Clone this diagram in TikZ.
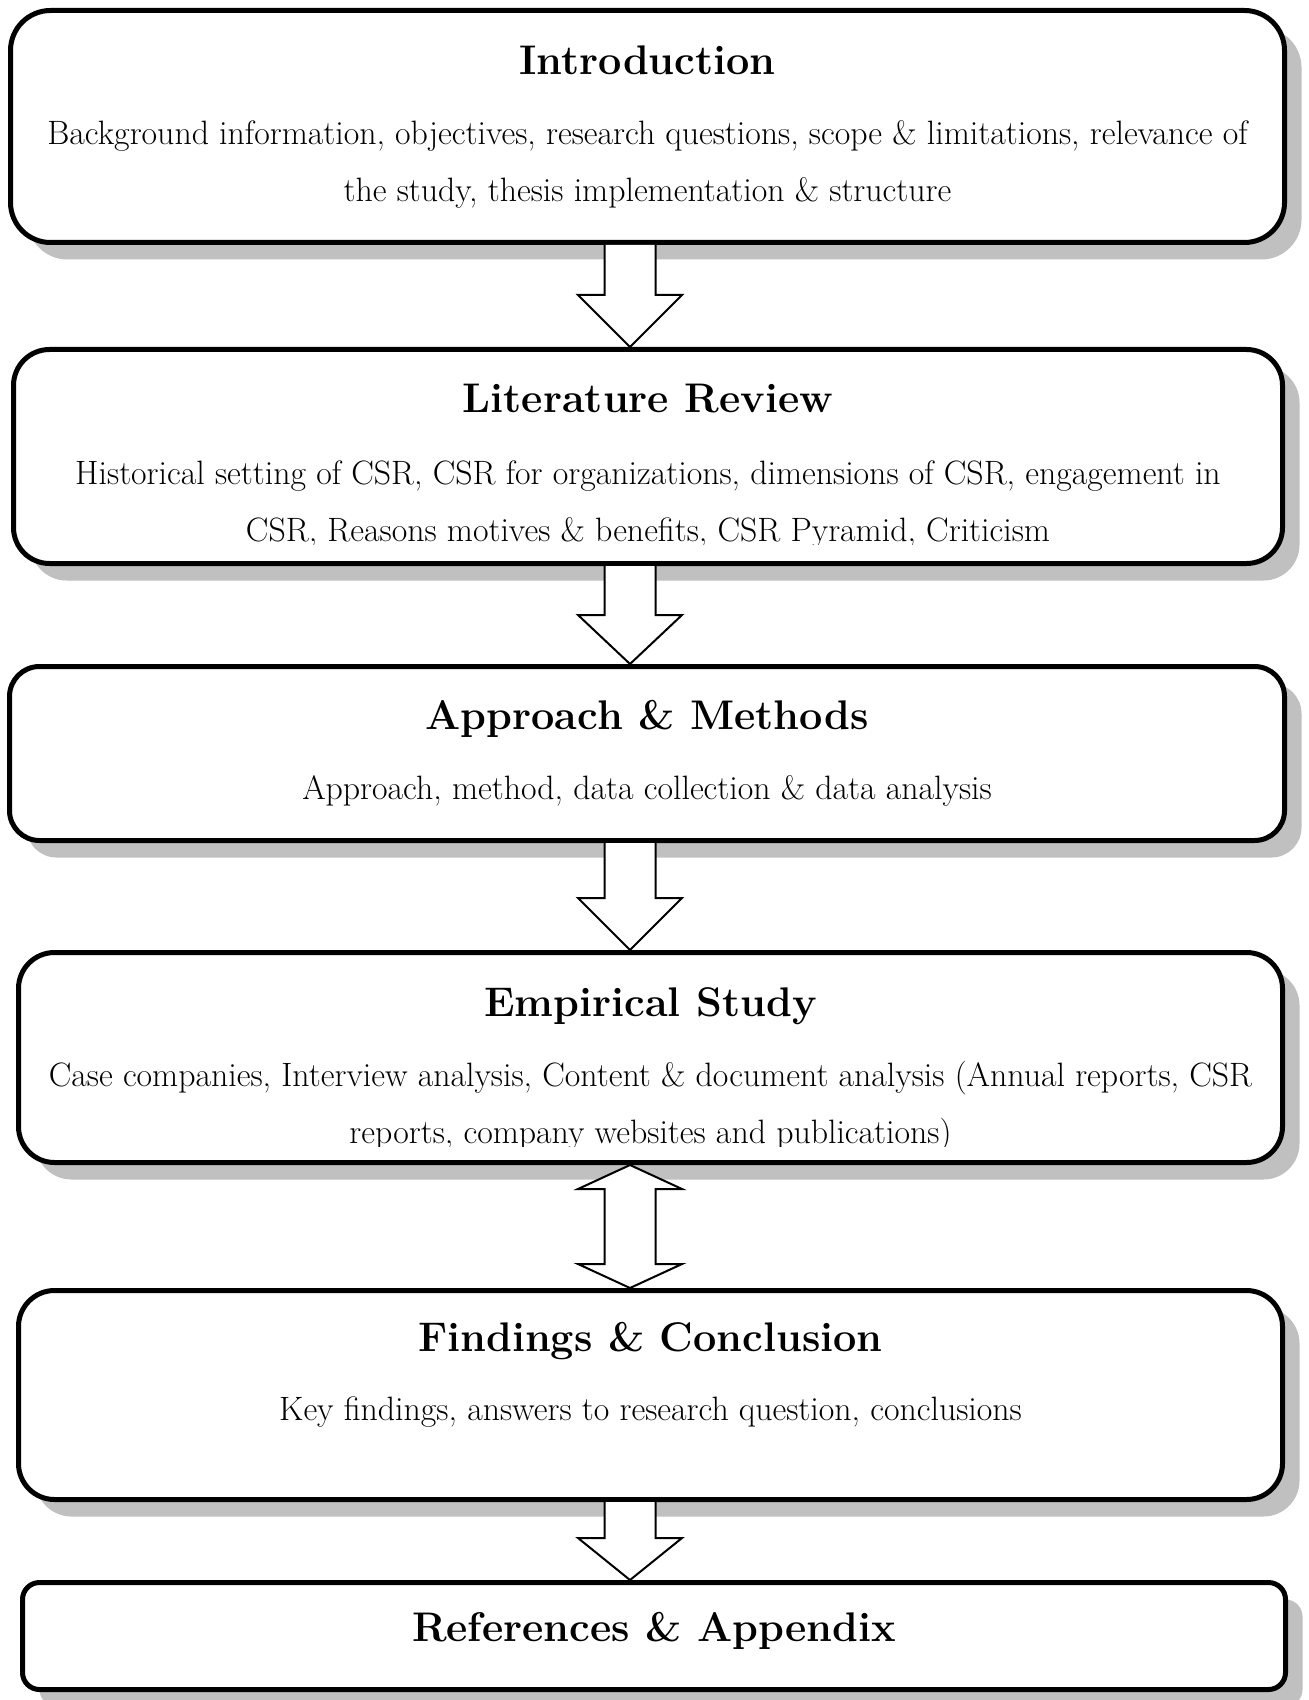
\documentclass[tikz,border=0pt]{standalone}
\usepackage{fontspec}
\usetikzlibrary{calc,shadows}
\definecolor{shadowgray}{HTML}{C0C0C0}
\tikzset{
  box/.style={draw, line width=2.5pt, rounded corners=#1, fill=white, inner sep=0pt,
    drop shadow={shadow xshift=8.5pt, shadow yshift=-8.5pt, fill=shadowgray, opacity=1}},
  ttl/.style={anchor=base, inner sep=0pt, font=\fontsize{20.7}{24}\selectfont\bfseries},
  body/.style={anchor=base, inner sep=0pt, font=\fontsize{16.9}{20}\selectfont},
  barrow/.style={draw, line width=1pt, fill=white, line join=miter}
}
\newcommand\flowarrow[3]{%
  \coordinate (t) at (ax |- #1.south);
  \coordinate (h) at (ax |- #2.north);
  \draw[barrow] ($(t)+(-25.5,0)$) -- ($(h)+(-25.5,-#3)$) -- ($(h)+(-52,-#3)$) -- (h)
    -- ($(h)+(52,-#3)$) -- ($(h)+(25.5,-#3)$) -- ($(t)+(25.5,0)$);
}
\begin{document}
\begin{tikzpicture}[x=0.5pt,y=-0.5pt]
\path[fill=white] (0,0) rectangle (1309,1700);
\useasboundingbox (0,0) rectangle (1309,1700);
\coordinate (ax) at (630,0);

% boxes
\node[box=20pt, minimum width=637pt, minimum height=116pt] (b1) at (647.5,126.5) {};
\node[box=18pt, minimum width=634.5pt, minimum height=107pt] (b2) at (648,456.5) {};
\node[box=15pt, minimum width=637.5pt, minimum height=87pt] (b3) at (647,753.5) {};
\node[box=18pt, minimum width=632pt, minimum height=105pt] (b4) at (650.5,1057.5) {};
\node[box=18pt, minimum width=632pt, minimum height=104.5pt] (b5) at (650.5,1395) {};
\node[box=8.5pt, minimum width=631.5pt, minimum height=53.5pt] (b6) at (654,1636) {};

% texts
\node[ttl] (t1) at (647.5,75) {Introduction};
\node[body] (d1a) at (647.5,145) {Background information, objectives, research questions, scope \& limitations, relevance of};
\node[body] (d1b) at (647.5,202) {the study, thesis implementation \& structure};

\node[ttl] (t2) at (648,413) {Literature Review};
\node[body] (d2a) at (648,484) {Historical setting of CSR, CSR for organizations, dimensions of CSR, engagement in};
\begin{scope}
\clip (0,0) rectangle (1309,544);
\node[body] (d2b) at (648,541) {CSR, Reasons motives \& benefits, CSR Pyramid, Criticism};
\end{scope}

\node[ttl] (t3) at (647,729) {Approach \& Methods};
\node[body] (d3a) at (647,799) {Approach, method, data collection \& data analysis};

\node[ttl] (t4) at (650.5,1016) {Empirical Study};
\node[body] (d4a) at (650.5,1086) {Case companies, Interview analysis, Content \& document analysis (Annual reports, CSR};
\begin{scope}
\clip (0,0) rectangle (1309,1146);
\node[body] (d4b) at (650.5,1143) {reports, company websites and publications)};
\end{scope}

\node[ttl] (t5) at (650.5,1351) {Findings \& Conclusion};
\node[body] (d5a) at (650.5,1420) {Key findings, answers to research question, conclusions};

\node[ttl] (t6) at (654,1641) {References \& Appendix};

% arrows
\flowarrow{b1}{b2}{52}
\flowarrow{b2}{b3}{49}
\flowarrow{b3}{b4}{52}
\coordinate (t) at (ax |- b4.south);
\coordinate (h) at (ax |- b5.north);
\draw[barrow] (t) -- ($(t)+(52,24)$) -- ($(t)+(25.5,24)$) -- ($(h)+(25.5,-24)$) -- ($(h)+(52,-24)$)
  -- (h) -- ($(h)+(-52,-24)$) -- ($(h)+(-25.5,-24)$) -- ($(t)+(-25.5,24)$) -- ($(t)+(-52,24)$) -- cycle;
\flowarrow{b5}{b6}{42}
\end{tikzpicture}
\end{document}
